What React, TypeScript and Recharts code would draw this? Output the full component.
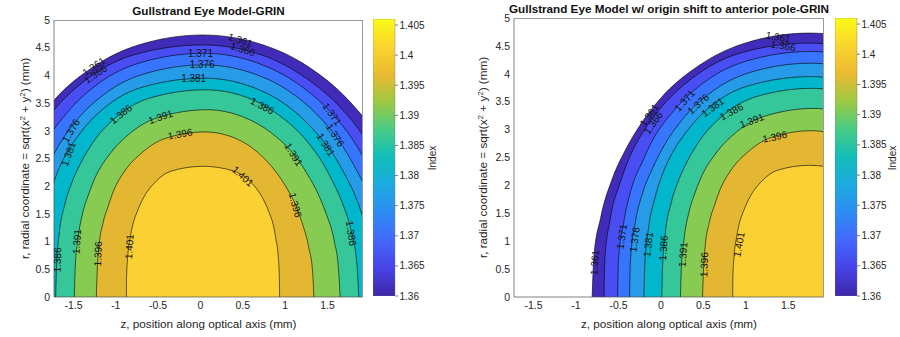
import React from 'react';
import { ComposedChart, Area, Scatter, XAxis, YAxis, BarChart, Bar } from 'recharts';

const FONT = '"Liberation Sans", Arial, Helvetica, sans-serif';
const TEXT = '#262626';
const AXIS = '#4a4a4a';

// ---- data (z in mm along optical axis, lens-centred; r in mm) ----
const contourLevels = [1.361, 1.366, 1.371, 1.376, 1.381, 1.386, 1.391, 1.396, 1.401];

const contour1361: [number, number][] = [[-2.53, 0], [-2.51, 0.71], [-2.43, 1.42], [-2.29, 2.13], [-2.15, 2.6], [-1.97, 3.07], [-1.73, 3.55], [-1.26, 4.16], [-0.75, 4.54], [0.03, 4.73], [0.76, 4.54], [1.27, 4.16], [1.75, 3.55], [2.01, 3.07], [2.2, 2.6], [2.38, 2.13], [2.51, 1.42], [2.6, 0.71], [2.63, 0]];
const contour1366: [number, number][] = [[-2.39, 0], [-2.38, 0.68], [-2.32, 1.37], [-2.2, 2.05], [-2.09, 2.5], [-1.93, 2.96], [-1.71, 3.41], [-1.28, 4.0], [-0.79, 4.37], [0.03, 4.55], [0.72, 4.37], [1.2, 4.0], [1.66, 3.41], [1.9, 2.96], [2.08, 2.5], [2.23, 2.05], [2.38, 1.37], [2.46, 0.68], [2.49, 0]];
const contour1371: [number, number][] = [[-2.23, 0], [-2.22, 0.66], [-2.16, 1.32], [-2.06, 1.98], [-1.94, 2.42], [-1.8, 2.86], [-1.59, 3.3], [-1.19, 3.87], [-0.73, 4.22], [0.04, 4.4], [0.68, 4.22], [1.13, 3.87], [1.56, 3.3], [1.79, 2.86], [1.96, 2.42], [2.09, 1.98], [2.23, 1.32], [2.31, 0.66], [2.34, 0]];
const contour1376: [number, number][] = [[-2.09, 0], [-2.08, 0.63], [-2.03, 1.26], [-1.93, 1.89], [-1.82, 2.3], [-1.68, 2.72], [-1.49, 3.14], [-1.11, 3.69], [-0.68, 4.02], [0.04, 4.19], [0.65, 4.02], [1.07, 3.69], [1.47, 3.14], [1.68, 2.72], [1.84, 2.3], [1.97, 1.89], [2.1, 1.26], [2.18, 0.63], [2.2, 0]];
const contour1381: [number, number][] = [[-1.92, 0], [-1.91, 0.59], [-1.87, 1.19], [-1.79, 1.78], [-1.71, 2.17], [-1.59, 2.57], [-1.42, 2.96], [-1.08, 3.48], [-0.68, 3.79], [0.05, 3.95], [0.61, 3.79], [1.0, 3.48], [1.37, 2.96], [1.57, 2.57], [1.72, 2.17], [1.84, 1.78], [1.96, 1.19], [2.03, 0.59], [2.05, 0]];
const contour1386: [number, number][] = [[-1.71, 0], [-1.7, 0.56], [-1.67, 1.12], [-1.6, 1.68], [-1.52, 2.06], [-1.41, 2.43], [-1.26, 2.81], [-0.96, 3.29], [-0.6, 3.59], [0.06, 3.74], [0.57, 3.59], [0.92, 3.29], [1.26, 2.81], [1.44, 2.43], [1.57, 2.06], [1.68, 1.68], [1.79, 1.12], [1.85, 0.56], [1.87, 0]];
const contour1391: [number, number][] = [[-1.49, 0], [-1.48, 0.51], [-1.45, 1.01], [-1.39, 1.52], [-1.32, 1.86], [-1.23, 2.2], [-1.09, 2.54], [-0.82, 2.97], [-0.5, 3.24], [0.08, 3.38], [0.52, 3.24], [0.83, 2.97], [1.12, 2.54], [1.27, 2.2], [1.39, 1.86], [1.48, 1.52], [1.58, 1.01], [1.63, 0.51], [1.65, 0]];
const contour1396: [number, number][] = [[-1.23, 0], [-1.22, 0.45], [-1.2, 0.89], [-1.15, 1.34], [-1.09, 1.64], [-1.02, 1.94], [-0.91, 2.24], [-0.68, 2.62], [-0.42, 2.86], [0.055, 2.98], [0.42, 2.86], [0.67, 2.62], [0.9, 2.24], [1.03, 1.94], [1.13, 1.64], [1.2, 1.34], [1.28, 0.89], [1.325, 0.45], [1.34, 0]];
const contour1401: [number, number][] = [[-0.875, 0], [-0.873, 0.35], [-0.86, 0.71], [-0.83, 1.06], [-0.8, 1.3], [-0.75, 1.53], [-0.68, 1.77], [-0.53, 2.08], [-0.35, 2.27], [0.03, 2.36], [0.4, 2.27], [0.59, 2.08], [0.74, 1.77], [0.81, 1.53], [0.86, 1.3], [0.89, 1.06], [0.92, 0.71], [0.932, 0.35], [0.935, 0]];

const contourLines = [contour1361, contour1366, contour1371, contour1376, contour1381, contour1386, contour1391, contour1396, contour1401];

// shift of the origin to the anterior pole (mm), used by the right panel
const originShift = 1.72;

const zDomain: [number, number] = [-1.73, 1.92];
const rDomain: [number, number] = [0, 5];
const zTicks = [-1.5, -1, -0.5, 0, 0.5, 1, 1.5];
const rTicks = [0, 0.5, 1, 1.5, 2, 2.5, 3, 3.5, 4, 4.5, 5];
const colorLimits: [number, number] = [1.36, 1.406];
const colorbarTicks = [1.36, 1.365, 1.37, 1.375, 1.38, 1.385, 1.39, 1.395, 1.4, 1.405];

// contour labels (left panel, lens-centred coordinates)
const leftLabelText = ['1.361', '1.366', '1.361', '1.366', '1.371', '1.376', '1.381', '1.376', '1.381', '1.386', '1.391', '1.396', '1.386', '1.371', '1.376', '1.381', '1.391', '1.401', '1.396', '1.386', '1.386', '1.391', '1.396', '1.401'];
const leftLabelZ = [0.47, 0.5, -1.26, -1.24, 0.0, 0.02, -0.08, -1.53, -1.56, -0.94, -0.47, -0.24, 0.73, 1.555, 1.59, 1.48, 1.1, 0.5, 1.12, 1.78, -1.69, -1.46, -1.21, -0.84];
const leftLabelR = [4.64, 4.47, 4.16, 4.02, 4.4, 4.19, 3.95, 3.0, 2.58, 3.3, 3.25, 2.94, 3.45, 3.3, 2.92, 2.75, 2.57, 2.18, 1.66, 1.15, 0.67, 1.0, 0.78, 0.91];
const leftLabelAngle = [18, 18, -35, -35, 0, 0, 0, -60, -70, -38, -18, -10, 28, 55, 58, 58, 58, 42, 75, 82, -88, -86, -88, -86];

// contour labels (right panel, shifted coordinates)
const rightLabelText = ['1.361', '1.366', '1.361', '1.366', '1.371', '1.376', '1.381', '1.386', '1.391', '1.396', '1.361', '1.371', '1.376', '1.381', '1.386', '1.391', '1.396', '1.401'];
const rightLabelZ = [1.38, 1.44, -0.14, -0.09, 0.28, 0.44, 0.61, 0.83, 1.07, 1.34, -0.78, -0.46, -0.31, -0.15, 0.03, 0.26, 0.51, 0.92];
const rightLabelR = [4.66, 4.5, 3.26, 3.12, 3.52, 3.46, 3.4, 3.32, 3.16, 2.87, 0.62, 1.08, 1.03, 0.94, 0.88, 0.76, 0.58, 0.94];
const rightLabelAngle = [10, 10, -55, -55, -48, -42, -36, -28, -20, -12, -86, -82, -82, -84, -86, -86, -88, -80];

// ---- styles ----
const bandColors = ['#402CB9', '#484EF1', '#3875FE', '#269BE8', '#02B7CB', '#35C79A', '#88CB53', '#E4B733', '#FAD032'];
const gradientStops = ['#3E26A8', '#4743E7', '#4367FD', '#2D8CF3', '#1CAADF', '#12BEB9', '#48CB86', '#9DC943', '#EABA30', '#FAD42E', '#F9FB15'];

function ContourLabel(props: any) {
  const { cx, cy, payload } = props;
  if (typeof cx !== 'number' || typeof cy !== 'number' || !payload) return null;
  return (
    <text
      x={cx}
      y={cy}
      transform={`rotate(${payload.angle}, ${cx}, ${cy})`}
      textAnchor="middle"
      dominantBaseline="central"
      fontSize={10}
      fill="#111"
      fontFamily={FONT}
    >
      {payload.text}
    </text>
  );
}

function PlainText(props: any) {
  const { px, py, text, size, rotate } = props;
  return (
    <text
      x={px}
      y={py}
      transform={rotate ? `rotate(${rotate}, ${px}, ${py})` : undefined}
      textAnchor="middle"
      fontSize={size}
      fill={TEXT}
      fontFamily={FONT}
    >
      {text}
    </text>
  );
}

function RadialLabel(props: any) {
  const { px, py } = props;
  return (
    <text
      x={px}
      y={py}
      transform={`rotate(-90, ${px}, ${py})`}
      textAnchor="middle"
      fontSize={11.7}
      fill={TEXT}
      fontFamily={FONT}
    >
      <tspan>r, radial coordinate = sqrt(x</tspan>
      <tspan dy={-4.5} fontSize={8}>2</tspan>
      <tspan dy={4.5}> + y</tspan>
      <tspan dy={-4.5} fontSize={8}>2</tspan>
      <tspan dy={4.5}>) (mm)</tspan>
    </text>
  );
}

interface PanelProps {
  left: number;
  width: number;
  top: number;
  yAxisWidth: number;
  title: string;
  titleCenter: number;
  titleTop: number;
  yLabelX: number;
  xLabelX: number;
  shift: number;
  labelText: string[];
  labelZ: number[];
  labelR: number[];
  labelAngle: number[];
}

function ContourPanel(p: PanelProps) {
  const series = contourLines.map((pts) => pts.map(([z, r]) => ({ z: z + p.shift, r })));
  const labelData = p.labelText.map((t, i) => ({ z: p.labelZ[i], r: p.labelR[i], text: t, angle: p.labelAngle[i] }));
  const plotBottom = 297;
  const plotLeft = p.left + p.yAxisWidth;
  const plotRight = p.left + p.width - 2;
  const plotMid = p.top + (plotBottom - p.top) / 2;
  return (
    <>
      <div
        style={{
          position: 'absolute',
          left: p.titleCenter - 260,
          width: 520,
          top: p.titleTop,
          textAlign: 'center',
          fontFamily: FONT,
          fontWeight: 'bold',
          fontSize: 11.7,
          lineHeight: '14px',
          color: '#111',
          whiteSpace: 'nowrap',
        }}
      >
        {p.title}
      </div>
      <div style={{ position: 'absolute', left: p.left, top: 0 }}>
        <ComposedChart width={p.width} height={337} margin={{ top: p.top, right: 2, bottom: 0, left: 0 }}>
          <XAxis
            xAxisId="main"
            dataKey="z"
            type="number"
            domain={zDomain}
            allowDataOverflow
            ticks={zTicks}
            height={40}
            tickLine={false}
            tickSize={0}
            tickMargin={5}
            axisLine={{ stroke: AXIS, strokeWidth: 0.7 }}
            tick={{ fontSize: 10.5, fill: TEXT, fontFamily: FONT }}
            label={<PlainText px={p.xLabelX} py={328} size={11.7} text="z, position along optical axis (mm)" />}
          />
          <YAxis
            yAxisId="main"
            type="number"
            domain={rDomain}
            allowDataOverflow
            ticks={rTicks}
            width={p.yAxisWidth}
            tickLine={false}
            tickSize={0}
            tickMargin={4}
            axisLine={{ stroke: AXIS, strokeWidth: 0.7 }}
            tick={{ fontSize: 10.5, fill: TEXT, fontFamily: FONT }}
            label={<RadialLabel px={p.yLabelX} py={plotMid} />}
          />
          {series.map((d, i) => (
            <Area
              key={`band-${contourLevels[i]}`}
              xAxisId="main"
              yAxisId="main"
              data={d}
              dataKey="r"
              type="monotone"
              baseValue={0}
              fill={bandColors[i]}
              fillOpacity={1}
              stroke="#000"
              strokeWidth={0.6}
              dot={false}
              activeDot={false}
              isAnimationActive={false}
            />
          ))}
          <Scatter
            xAxisId="main"
            yAxisId="main"
            data={labelData}
            dataKey="r"
            shape={<ContourLabel />}
            isAnimationActive={false}
          />
        </ComposedChart>
      </div>
      <div
        style={{
          position: 'absolute',
          left: plotLeft,
          top: p.top,
          width: plotRight - plotLeft,
          height: plotBottom - p.top,
          boxSizing: 'border-box',
          borderTop: '1px solid #9a9a9a',
          borderRight: '1px solid #9a9a9a',
          pointerEvents: 'none',
        }}
      />
    </>
  );
}

function Colorbar(props: { left: number; top: number; axisWidth: number; gradId: string; labelX: number }) {
  const data = [{ name: 'Index', top: colorLimits[1] }];
  return (
    <div style={{ position: 'absolute', left: props.left, top: 0 }}>
      <BarChart
        width={22 + props.axisWidth}
        height={337}
        data={data}
        margin={{ top: props.top, right: 0, bottom: 41, left: 0 }}
        barCategoryGap={0}
      >
        <defs>
          <linearGradient id={props.gradId} x1="0" y1="1" x2="0" y2="0">
            {gradientStops.map((c, i) => (
              <stop key={i} offset={`${(i / (gradientStops.length - 1)) * 100}%`} stopColor={c} />
            ))}
          </linearGradient>
        </defs>
        <XAxis dataKey="name" hide />
        <YAxis
          orientation="right"
          type="number"
          domain={colorLimits}
          allowDataOverflow
          ticks={colorbarTicks}
          width={props.axisWidth}
          axisLine={false}
          tickSize={3}
          tickMargin={1.5}
          tickLine={{ stroke: AXIS, strokeWidth: 0.7 }}
          tick={{ fontSize: 10, fill: TEXT, fontFamily: FONT }}
          label={<PlainText px={props.labelX} py={158} size={10} rotate={-90} text="Index" />}
        />
        <Bar dataKey="top" fill={`url(#${props.gradId})`} stroke="#777" strokeWidth={0.4} isAnimationActive={false} />
      </BarChart>
    </div>
  );
}

export default function App() {
  return (
    <div
      style={{
        position: 'absolute',
        left: 0,
        top: 0,
        width: 900,
        height: 337,
        background: '#fff',
        overflow: 'hidden',
        fontFamily: FONT,
      }}
    >
      <ContourPanel
        left={0}
        width={365}
        top={20}
        yAxisWidth={54}
        title="Gullstrand Eye Model-GRIN"
        titleCenter={208.5}
        titleTop={4}
        yLabelX={29}
        xLabelX={208.5}
        shift={0}
        labelText={leftLabelText}
        labelZ={leftLabelZ}
        labelR={leftLabelR}
        labelAngle={leftLabelAngle}
      />
      <Colorbar left={373} top={19} axisWidth={55} gradId="cbLeft" labelX={63} />
      <ContourPanel
        left={450}
        width={376}
        top={18}
        yAxisWidth={64}
        title="Gullstrand Eye Model w/ origin shift to anterior pole-GRIN"
        titleCenter={669}
        titleTop={2}
        yLabelX={37}
        xLabelX={219}
        shift={originShift}
        labelText={rightLabelText}
        labelZ={rightLabelZ}
        labelR={rightLabelR}
        labelAngle={rightLabelAngle}
      />
      <Colorbar left={835} top={18} axisWidth={43} gradId="cbRight" labelX={61} />
    </div>
  );
}
